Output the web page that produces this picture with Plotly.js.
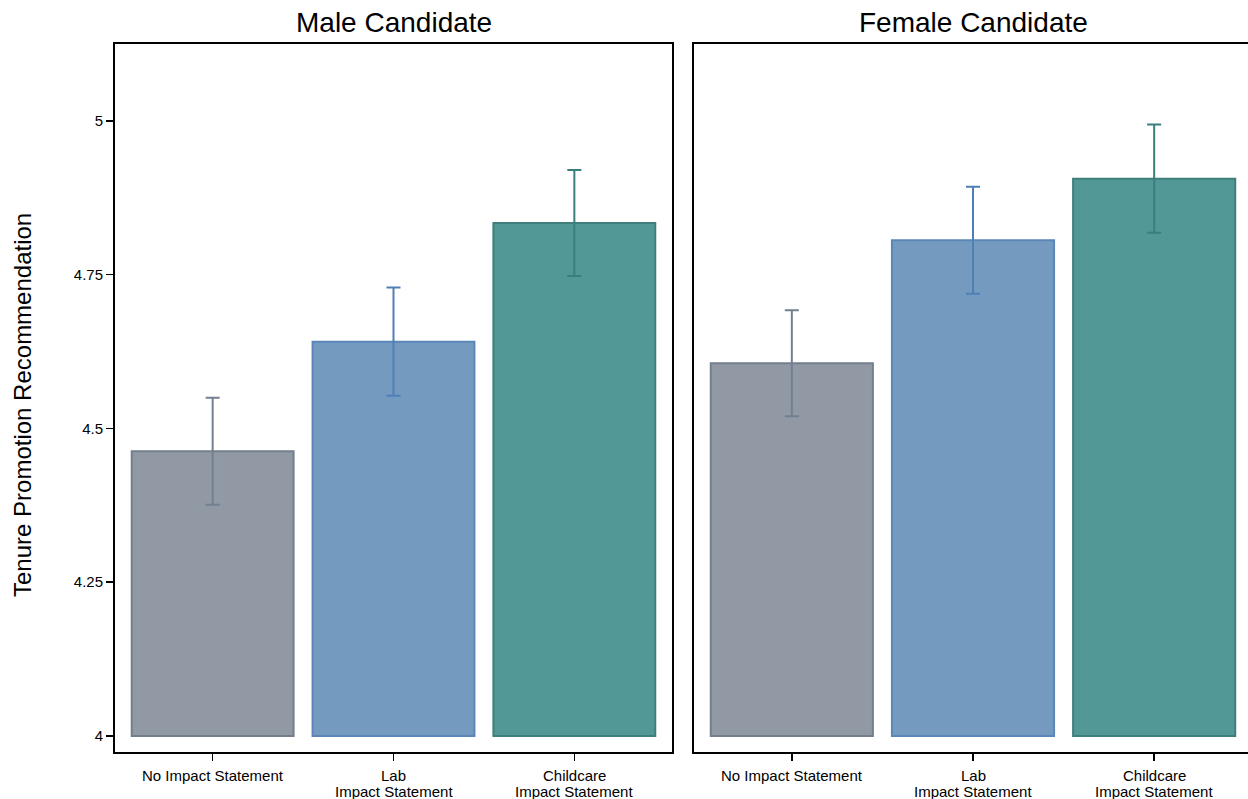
<!DOCTYPE html>
<html>
<head>
<meta charset="utf-8">
<script src="https://cdn.plot.ly/plotly-3.0.1.min.js"></script>
<style>
  html, body { margin: 0; padding: 0; overflow: hidden; background: #fff; }
  #chart { width: 1252px; height: 799px; }
</style>
</head>
<body>
<div id="chart"></div>
<script>
// Conditions shown on the x axis (each label is a list of lines)
const conditions = [0, 1, 2];
const conditionLabels = [
  ["No Impact Statement"],
  ["Lab", "Impact Statement"],
  ["Childcare", "Impact Statement"]
];

// Mean tenure promotion recommendation and standard errors
const maleMeans = [4.463, 4.641, 4.834];
const maleErrors = [0.087, 0.088, 0.086];
const femaleMeans = [4.606, 4.806, 4.906];
const femaleErrors = [0.086, 0.087, 0.088];

const panelTitles = ["Male Candidate", "Female Candidate"];
const yTitle = "Tenure Promotion Recommendation";
const yTickVals = [4, 4.25, 4.5, 4.75, 5];
const yTickText = ["4", "4.25", "4.5", "4.75", "5"];

const fillColors = ["#9099a4", "#759ac0", "#529896"];
const edgeColors = ["#737f8d", "#5a87b8", "#3e7f7d"];
const errColors = ["#738090", "#4e80b5", "#3a7f7c"];

const FONT = "Liberation Sans, Arial, Helvetica, sans-serif";
const LABEL_SIZE = 15;

function barTraces(means, errors, xa, ya) {
  const traces = [];
  conditions.forEach((c, i) => {
    traces.push({
      type: "bar",
      x: [c],
      y: [means[i] - 4],
      base: 4,
      width: 0.895,
      xaxis: xa,
      yaxis: ya,
      marker: { color: fillColors[i], line: { color: edgeColors[i], width: 2 } },
      error_y: {
        type: "data",
        array: [errors[i]],
        visible: true,
        color: errColors[i],
        thickness: 2,
        width: 7
      },
      showlegend: false,
      hoverinfo: "skip"
    });
  });
  return traces;
}

const data = [].concat(
  barTraces(maleMeans, maleErrors, "x", "y"),
  barTraces(femaleMeans, femaleErrors, "x2", "y2")
);

const plotW = 1137;
const leftDomain = [0, 557 / plotW];
const rightDomain = [579 / plotW, 1];

const xCommon = {
  range: [-0.54, 2.54],
  tickvals: conditions,
  showticklabels: false,
  ticks: "outside",
  ticklen: 7,
  tickwidth: 1.5,
  tickcolor: "#000",
  showline: true,
  linecolor: "#000",
  linewidth: 2,
  mirror: true,
  showgrid: false,
  zeroline: false,
  fixedrange: true
};

const yCommon = {
  range: [3.974, 5.125],
  tickvals: yTickVals,
  ticktext: yTickText,
  ticks: "outside",
  ticklen: 7,
  tickwidth: 1.5,
  tickcolor: "#000",
  showline: true,
  linecolor: "#000",
  linewidth: 2,
  mirror: true,
  showgrid: false,
  zeroline: false,
  tickfont: { family: FONT, size: LABEL_SIZE, color: "#000" },
  fixedrange: true
};

// Category labels, one line per annotation for tight line spacing
const labelAnnotations = [];
["x", "x2"].forEach(xa => {
  conditions.forEach((c, i) => {
    conditionLabels[i].forEach((line, k) => {
      labelAnnotations.push({
        text: line, xref: xa, yref: "paper", x: c, y: 0,
        yshift: -23 - 16 * k, xanchor: "center", yanchor: "middle",
        showarrow: false,
        font: { family: FONT, size: LABEL_SIZE, color: "#000" }
      });
    });
  });
});

const layout = {
  width: 1252,
  height: 799,
  margin: { l: 115, r: 0, t: 44, b: 47 },
  paper_bgcolor: "#fff",
  plot_bgcolor: "#fff",
  barmode: "overlay",
  xaxis: Object.assign({}, xCommon, { domain: leftDomain, anchor: "y" }),
  yaxis: Object.assign({}, yCommon, { domain: [0, 1], anchor: "x" }),
  xaxis2: Object.assign({}, xCommon, { domain: rightDomain, anchor: "y2" }),
  yaxis2: Object.assign({}, yCommon, {
    domain: [0, 1], anchor: "x2", ticks: "", showticklabels: false
  }),
  annotations: [
    {
      text: panelTitles[0], xref: "paper", yref: "paper",
      x: (leftDomain[0] + leftDomain[1]) / 2, y: 1, yshift: 22,
      xanchor: "center", yanchor: "middle", showarrow: false,
      font: { family: FONT, size: 28, color: "#000" }
    },
    {
      text: panelTitles[1], xref: "paper", yref: "paper",
      x: (rightDomain[0] + rightDomain[1]) / 2, y: 1, yshift: 22,
      xanchor: "center", yanchor: "middle", showarrow: false,
      font: { family: FONT, size: 28, color: "#000" }
    },
    {
      text: yTitle, xref: "paper", yref: "paper",
      x: -(115 - 22) / plotW, y: (752 - 405) / 708,
      xanchor: "center", yanchor: "middle", textangle: -90, showarrow: false,
      font: { family: FONT, size: 24, color: "#000" }
    }
  ].concat(labelAnnotations)
};

Plotly.newPlot("chart", data, layout, { displayModeBar: false, staticPlot: true });
</script>
</body>
</html>
